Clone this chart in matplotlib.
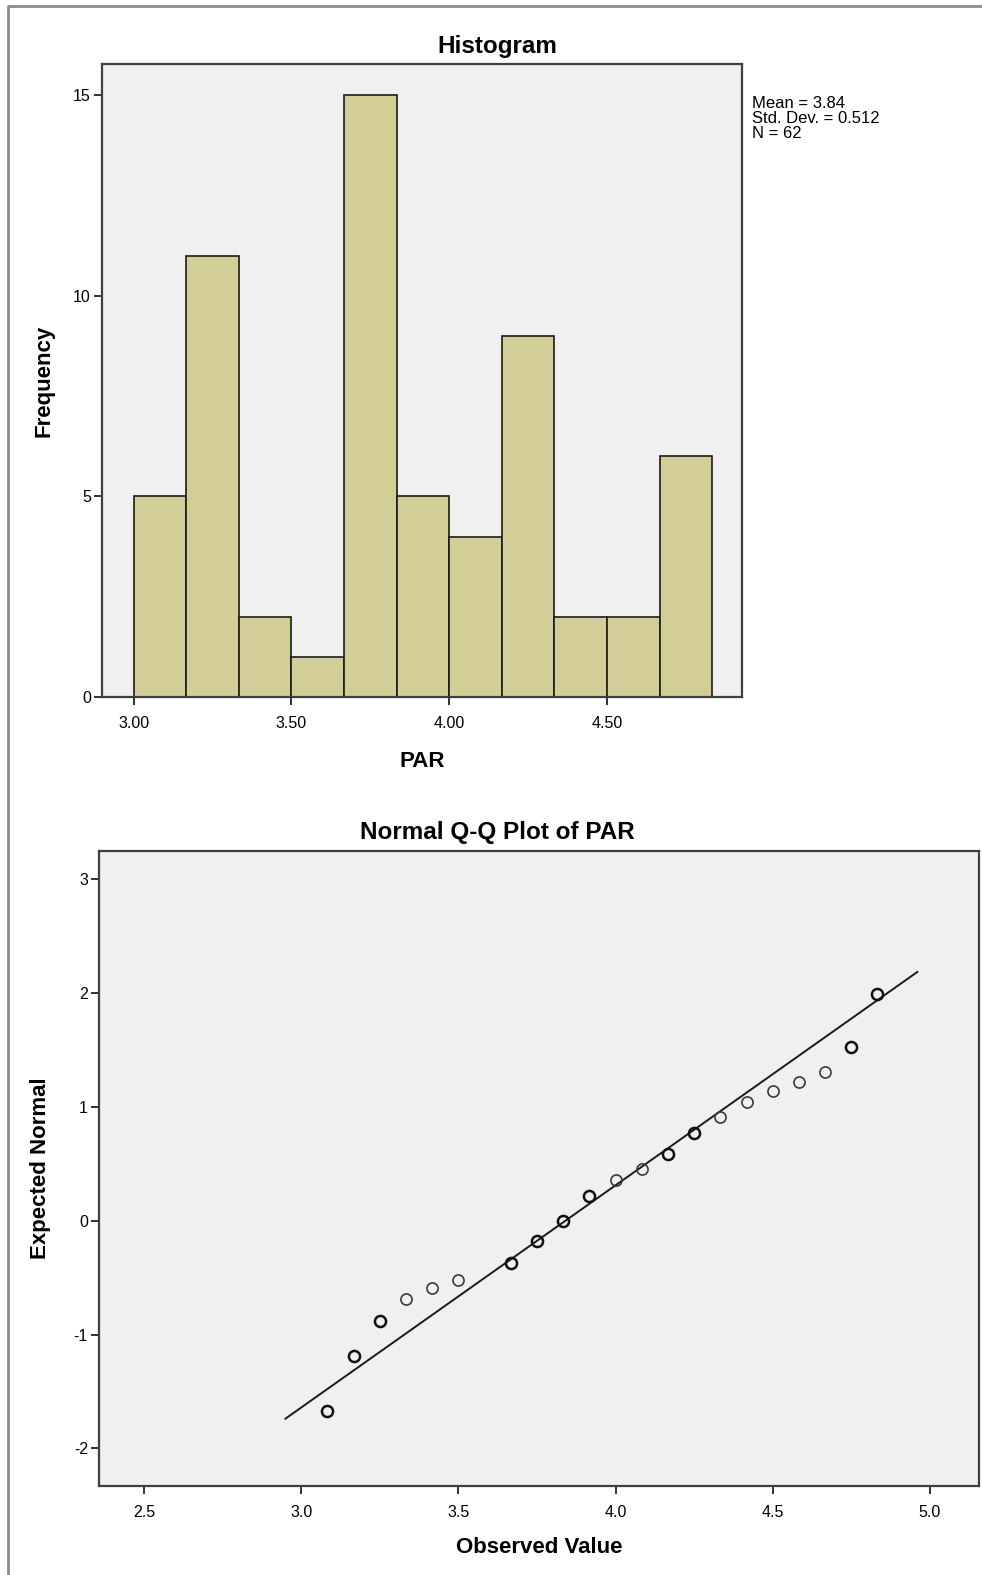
import numpy as np
import matplotlib
matplotlib.use('Agg')
import matplotlib.pyplot as plt
from matplotlib.lines import Line2D

plt.rcParams['font.family'] = ['Liberation Sans', 'DejaVu Sans']
plt.rcParams['axes.unicode_minus'] = False

# histogram data (PAR)
bin_edges = [3.0, 3.1667, 3.3333, 3.5, 3.6667, 3.8333, 4.0, 4.1667, 4.3333, 4.5, 4.6667, 4.8333]
frequencies = [5, 11, 2, 1, 15, 5, 4, 9, 2, 2, 6]
par_mean = 3.84
par_std = 0.512
par_n = 62

# Q-Q plot data
observed = [3.083, 3.167, 3.25, 3.333, 3.417, 3.5, 3.667, 3.75, 3.833, 3.917, 4.0,
            4.083, 4.167, 4.25, 4.333, 4.417, 4.5, 4.583, 4.667, 4.75, 4.833]
expected = [-1.67, -1.19, -0.88, -0.69, -0.59, -0.52, -0.37, -0.18, 0.0, 0.22, 0.36,
            0.46, 0.59, 0.77, 0.91, 1.04, 1.14, 1.22, 1.31, 1.53, 1.99]
line_x = [2.95, 4.96]

hist_xticks = [3.0, 3.5, 4.0, 4.5]
hist_xlabels = ['3.00', '3.50', '4.00', '4.50']
hist_yticks = [0, 5, 10, 15]
qq_xticks = [2.5, 3.0, 3.5, 4.0, 4.5, 5.0]
qq_yticks = [-2, -1, 0, 1, 2, 3]

# points drawn darker in the original (overlapping markers)
dark = [True, True, True, False, False, False, True, True, True, True, False,
        False, True, True, False, False, False, False, False, True, True]

W, H = 982, 1575
fig = plt.figure(figsize=(W / 100, H / 100), dpi=100)
fig.patch.set_facecolor('white')

# outer frame (top and left only)
fig.add_artist(Line2D([8 / W, 8 / W, 1.0], [0.0, 1 - 6 / H, 1 - 6 / H],
                      transform=fig.transFigure, color='#8c8c8c', lw=2))


def style_axes(ax):
    ax.set_facecolor('#f0f0f0')
    for s in ax.spines.values():
        s.set_color('#404040')
        s.set_linewidth(1.6)
    ax.tick_params(axis='both', direction='out', length=6, width=1.4,
                   color='#303030', labelsize=11.5)
    ax.tick_params(axis='x', pad=8)
    ax.tick_params(axis='y', pad=2)


# ---- histogram
ax1 = fig.add_axes([102 / W, 1 - 697 / H, 640 / W, 633 / H])
style_axes(ax1)
widths = np.diff(bin_edges)
ax1.bar(bin_edges[:-1], frequencies, width=widths, align='edge',
        color='#d3ce98', edgecolor='#1a1a1a', linewidth=1.2)
ax1.set_xlim(2.9, 4.928)
ax1.set_ylim(0, 15.78)
ax1.set_xticks(hist_xticks)
ax1.set_xticklabels(hist_xlabels)
ax1.set_yticks(hist_yticks)
ax1.set_xlabel('PAR', fontsize=16, fontweight='bold', labelpad=14)
ax1.set_ylabel('Frequency', fontsize=16, fontweight='bold')
ax1.yaxis.set_label_coords(-0.075, 0.5)
fig.text(497 / W, 1 - 46 / H, 'Histogram', fontsize=17.5, fontweight='bold',
         ha='center', va='center')

fig.text(752 / W, 1 - 96 / H,
         'Mean = {:.2f}\nStd. Dev. = {:.3f}\nN = {}'.format(par_mean, par_std, par_n),
         fontsize=12, va='top', ha='left', linespacing=1.0)

# ---- normal Q-Q plot
ax2 = fig.add_axes([99 / W, 1 - 1486 / H, 880 / W, 635 / H])
style_axes(ax2)
lx = np.array(line_x)
ax2.plot(lx, (lx - par_mean) / par_std, color='#1a1a1a', lw=1.4)
obs = np.array(observed)
exp_ = np.array(expected)
dk = np.array(dark)
ax2.plot(obs[~dk], exp_[~dk], 'o', ms=8, mfc='none', mec='#3a3a3a', mew=1.2)
ax2.plot(obs[dk], exp_[dk], 'o', ms=8, mfc='none', mec='#111111', mew=1.8)
ax2.set_xlim(2.357, 5.156)
ax2.set_ylim(-2.33, 3.25)
ax2.set_xticks(qq_xticks)
ax2.set_yticks(qq_yticks)
ax2.set_xlabel('Observed Value', fontsize=16, fontweight='bold', labelpad=12)
ax2.set_ylabel('Expected Normal', fontsize=16, fontweight='bold')
ax2.yaxis.set_label_coords(-0.054, 0.5)
fig.text(497 / W, 1 - 833 / H, 'Normal Q-Q Plot of PAR', fontsize=17.5,
         fontweight='bold', ha='center', va='center')

fig.savefig('out.png', dpi=100, facecolor='white')
